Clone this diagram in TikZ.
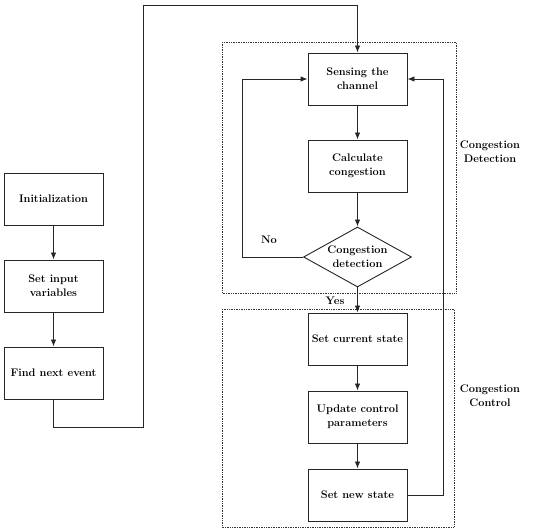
\documentclass[tikz,border=0pt]{standalone}
\usepackage{tikz}
\usetikzlibrary{arrows.meta,shapes.geometric}

\begin{document}
\begin{tikzpicture}[
  x=1pt, y=-1pt,
  font=\bfseries\fontsize{11}{14}\selectfont,
  step box/.style={draw=black!85, line width=0.9pt, fill=white, align=center,
                   minimum width=99pt, minimum height=52pt, inner sep=1pt},
  decide/.style={diamond, draw=black!85, line width=0.9pt, fill=white, align=center,
                 aspect=1.8, inner sep=-2pt, minimum width=108pt, minimum height=60pt},
  zone/.style={draw=black!80, line width=0.7pt, densely dotted},
  flow/.style={-{Latex[length=7pt,width=5.5pt]}, draw=black!85, line width=0.9pt},
]
\useasboundingbox (0,0) rectangle (550,532);

% The two monitored phases, as dotted frames.
\draw[zone] (222,42) rectangle (456,293);
\draw[zone] (222,309) rectangle (454,527);
\node[align=center] (detzone) at (490,152) {Congestion\\Detection};
\node[align=center] (ctlzone) at (490,396) {Congestion\\Control};

% Set-up chain on the left.
\node[step box] (init) at (53.5,199) {Initialization};
\node[step box] (setinp) at (53.5,286) {Set input\\variables};
\node[step box] (findnext) at (53.5,373) {Find next event};
\draw[flow] (init) -- (setinp);
\draw[flow] (setinp) -- (findnext);

% Detection loop.
\node[step box] (sense) at (357.5,79) {Sensing the\\channel};
\node[step box] (calc) at (357.5,166) {Calculate\\congestion};
\node[decide] (detect) at (357.5,257) {Congestion\\detection};
\draw[flow] (sense) -- (calc);
\draw[flow] (calc) -- (detect);

% Control steps.
\node[step box] (curstate) at (357.5,339) {Set current state};
\node[step box] (update) at (357.5,417) {Update control\\parameters};
\node[step box] (newstate) at (357.5,495) {Set new state};
\draw[flow] (curstate) -- (update);
\draw[flow] (update) -- (newstate);

% Next event goes round the top into sensing.
\coordinate (loopbot) at (143,427);
\coordinate (looptop) at (143,5);
\draw[flow] (findnext.south) |- (loopbot) -- (looptop) -| (sense.north);

% No: back to sensing; Yes: on to control.
\coordinate (noturn) at (242,257);
\draw[flow] (detect.west) -- (noturn) |- (sense.west);
\node (no) at (269,240) {No};
\draw[flow] (detect.south) -- (curstate.north);
\node (yes) at (335,301) {Yes};

% New state feeds sensing again.
\coordinate (backturn) at (443,495);
\draw[flow] (newstate.east) -- (backturn) |- (sense.east);
\end{tikzpicture}
\end{document}
